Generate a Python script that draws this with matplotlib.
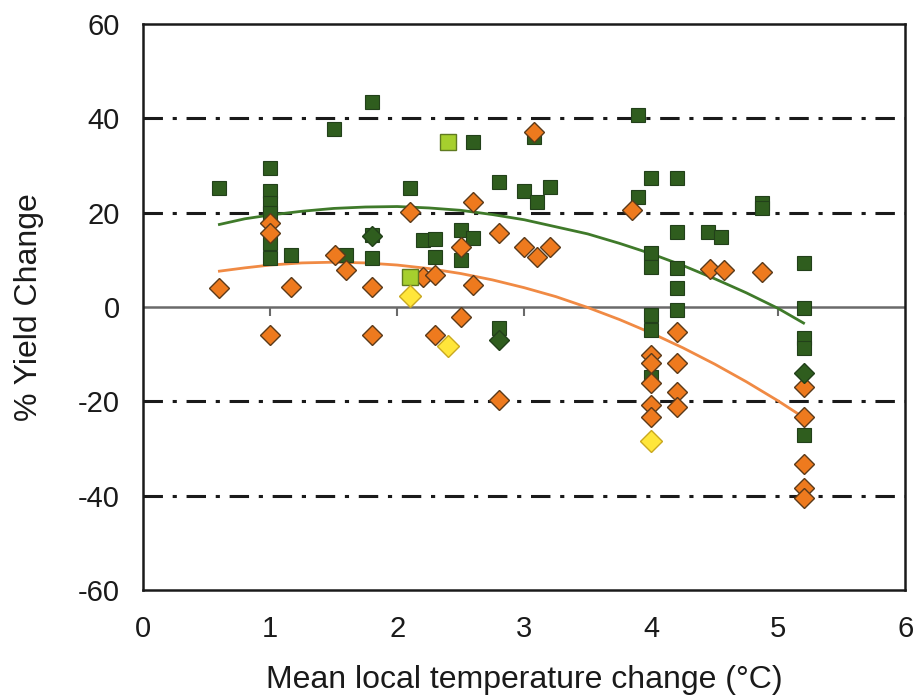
import numpy as np
import matplotlib
matplotlib.use("Agg")
import matplotlib.pyplot as plt

plt.rcParams['font.family'] = ['Liberation Sans', 'DejaVu Sans']
plt.rcParams['lines.scale_dashes'] = False
plt.rcParams['axes.unicode_minus'] = False

# dark green squares
sq_x = [0.6, 1.0, 1.0, 1.0, 1.0, 1.0, 1.0, 1.16, 1.5, 1.6, 1.8, 1.8, 1.8, 2.1,
        2.2, 2.3, 2.3, 2.5, 2.5, 2.6, 2.6, 2.8, 2.8, 3.0, 3.08, 3.1, 3.2,
        3.9, 3.9, 4.0, 4.0, 4.0, 4.0, 4.0, 4.0, 4.2, 4.2, 4.2, 4.2, 4.2,
        4.45, 4.55, 4.87, 4.87, 5.2, 5.2, 5.2, 5.2, 5.2]
sq_y = [25.3, 29.5, 24.5, 22.0, 20.0, 13.6, 10.4, 11.0, 37.7, 11.0, 43.4, 15.3, 10.4, 25.3,
        14.3, 14.5, 10.6, 16.4, 10.0, 34.9, 14.7, 26.6, -4.5, 24.5, 36.0, 22.3, 25.5,
        40.8, 23.4, 27.4, 11.5, 8.5, -1.7, -4.9, -14.9, 27.4, 16.0, 8.3, 4.0, -0.6,
        16.0, 14.9, 22.0, 21.0, 9.4, -0.2, -6.6, -8.7, -27.2]

# orange diamonds
dm_x = [0.6, 1.0, 1.0, 1.0, 1.16, 1.51, 1.6, 1.8, 1.8, 2.1, 2.2, 2.3, 2.3,
        2.5, 2.5, 2.6, 2.6, 2.8, 2.8, 3.0, 3.08, 3.1, 3.2, 3.85,
        4.0, 4.0, 4.0, 4.0, 4.0, 4.2, 4.2, 4.2, 4.2, 4.46, 4.57, 4.87,
        5.2, 5.2, 5.2, 5.2, 5.2]
dm_y = [4.0, 17.8, 15.7, -6.0, 4.3, 11.0, 7.9, 4.3, -6.0, 20.2, 6.4, 6.8, -6.0,
        12.8, -2.1, 22.3, 4.7, 15.7, -19.8, 12.8, 37.2, 10.6, 12.8, 20.6,
        -10.2, -11.9, -16.2, -20.8, -23.4, -5.3, -11.9, -18.0, -21.2, 8.1, 7.9, 7.4,
        -17.0, -23.4, -33.2, -38.3, -40.4]

# dark green diamonds
gd_x = [1.8, 2.8, 5.2]
gd_y = [15.0, -7.0, -14.0]

# light green squares
lg_x = [2.1, 2.4]
lg_y = [6.4, 35.0]

# yellow diamonds
yd_x = [2.1, 2.4, 4.0]
yd_y = [2.3, -8.3, -28.3]

# fitted curves
fit_x = [0.6, 0.8, 1.0, 1.25, 1.5, 1.75, 2.0, 2.25, 2.5, 2.75, 3.0, 3.25, 3.5,
         3.75, 4.0, 4.25, 4.5, 4.75, 5.0, 5.2]
fit_green = [17.5, 18.7, 19.5, 20.3, 20.9, 21.2, 21.3, 21.0, 20.5, 19.6, 18.5, 17.0, 15.5,
             13.5, 11.3, 8.8, 6.0, 3.0, -0.3, -3.4]
fit_orange = [7.6, 8.3, 8.9, 9.35, 9.5, 9.35, 8.9, 8.15, 7.1, 5.75, 4.1, 2.2, -0.1,
              -2.65, -5.5, -8.65, -12.1, -15.85, -19.9, -23.4]

x_ticks = [0, 1, 2, 3, 4, 5, 6]
y_ticks = [-60, -40, -20, 0, 20, 40, 60]
grid_y = [-40, -20, 20, 40]

fig = plt.figure(figsize=(9.18, 6.95), dpi=100)
ax = fig.add_axes([0.156, 0.151, 0.83, 0.8145])

for g in grid_y:
    ax.axhline(g, color='#1a1a1a', lw=2.2, ls=(0, (14, 7, 3, 7)), zorder=1)
ax.axhline(0, color='#6a6a6a', lw=1.8, zorder=1)
ax.vlines(x_ticks[1:-1], -2.0, 0, color='#6a6a6a', lw=1.5, zorder=1)

ax.plot(fit_x, fit_green, color='#3f7a2a', lw=2.0, zorder=2)
ax.plot(fit_x, fit_orange, color='#f08a44', lw=2.0, zorder=2)

ax.plot(sq_x, sq_y, 's', ms=10, mfc='#2f5d1e', mec='#22401a', mew=0.8, ls='none', zorder=3)
ax.plot(dm_x, dm_y, 'D', ms=10, mfc='#ee7a1e', mec='#5a3a1a', mew=1.0, ls='none', zorder=4)
ax.plot(gd_x, gd_y, 'D', ms=10, mfc='#2f5d1e', mec='#22401a', mew=1.0, ls='none', zorder=4)
ax.plot(lg_x, lg_y, 's', ms=12, mfc='#a6cf2e', mec='#5f7a20', mew=1.0, ls='none', zorder=5)
ax.plot(yd_x, yd_y, 'D', ms=11.5, mfc='#ffe63a', mec='#c9a820', mew=1.0, ls='none', zorder=5)

ax.set_xlim(0, 6)
ax.set_ylim(-60, 60)
ax.set_xticks(x_ticks)
ax.set_yticks(y_ticks)
ax.tick_params(length=0, labelsize=21, pad=18, colors='#1a1a1a')
ax.tick_params(axis='y', pad=17)
for s in ax.spines.values():
    s.set_linewidth(1.8)
    s.set_color('#1a1a1a')

ax.set_xlabel('Mean local temperature change (°C)', fontsize=23, labelpad=16, color='#1a1a1a')
ax.set_ylabel('% Yield Change', fontsize=23, labelpad=24, color='#1a1a1a')

fig.savefig('out.png', dpi=100)
